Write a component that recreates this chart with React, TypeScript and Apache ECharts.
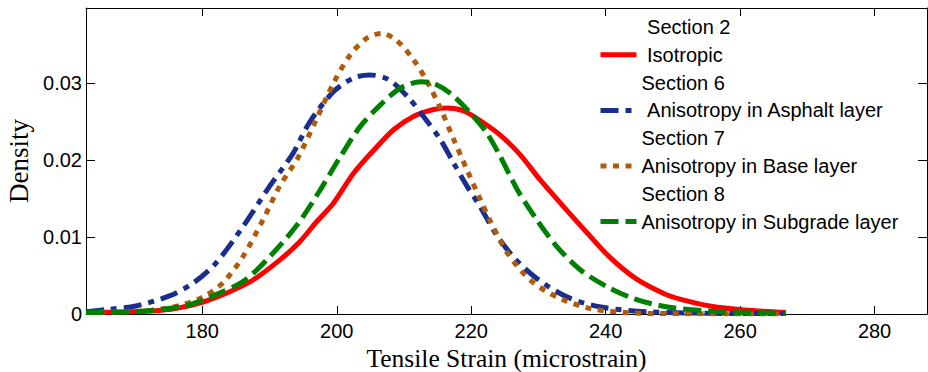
import React, { useEffect, useRef } from "react";
import * as echarts from "echarts";

// Section 2 – Isotropic
const isoStrain = [162.7, 167, 172.6, 176, 180.1, 184.0, 187.5, 191.5, 194.5, 197.0, 199.5, 202.5, 205.5, 208.5, 211.4, 214.4, 216.4, 218.9, 221.6, 224.4, 227.3, 230.3, 233.5, 237.3, 240.6, 244.5, 248.8, 251.2, 255.7, 260.6, 266.8];
const isoDensity = [0.0002, 0.00025, 0.0004, 0.0007, 0.00156, 0.00287, 0.00439, 0.0070, 0.0094, 0.0120, 0.0144, 0.0183, 0.0213, 0.0240, 0.0257, 0.0266, 0.0268, 0.0264, 0.0250, 0.0232, 0.0207, 0.0174, 0.0142, 0.0105, 0.0074, 0.0046, 0.0026, 0.0019, 0.0010, 0.00052, 0.0002];

// Section 6 – Anisotropy in Asphalt layer
const asphaltStrain = [162.7, 166, 170.1, 175.1, 178.6, 182.0, 186.0, 190.0, 193.5, 196.0, 199.5, 202.5, 204.9, 207.7, 210.5, 212.9, 215.4, 217.4, 219.4, 221.5, 223.6, 226.3, 229.8, 234.3, 239.3, 246.2, 255, 266.8];
const asphaltDensity = [0.0003, 0.0006, 0.00104, 0.00235, 0.0040, 0.0066, 0.0113, 0.0166, 0.0209, 0.0250, 0.0289, 0.0307, 0.0311, 0.0305, 0.0283, 0.0257, 0.0227, 0.0196, 0.0166, 0.0137, 0.0105, 0.0074, 0.0046, 0.0022, 0.0009, 0.0003, 0.0001, 0.00005];

// Section 7 – Anisotropy in Base layer
const baseStrain = [162.7, 168, 172.6, 176.6, 180.1, 183.0, 186.0, 189.0, 191.5, 194.2, 196.8, 199.5, 202.0, 204.5, 206.7, 209.0, 211.4, 213.4, 215.4, 217.4, 219.4, 221.4, 223.0, 225.4, 228.8, 232.8, 237.8, 243.7, 250, 266.8];
const baseDensity = [0.0002, 0.0003, 0.0005, 0.0011, 0.0022, 0.0040, 0.0074, 0.0122, 0.0166, 0.0203, 0.0250, 0.0300, 0.0337, 0.0359, 0.0365, 0.0355, 0.0331, 0.0303, 0.0268, 0.0227, 0.0187, 0.0148, 0.0118, 0.0079, 0.0044, 0.0022, 0.0007, 0.00015, 0.00005, 0.0];

// Section 8 – Anisotropy in Subgrade layer
const subgradeStrain = [162.7, 170.1, 177.6, 182.5, 186.5, 190.5, 194.2, 197.3, 200.5, 203.5, 206.5, 209.5, 212.5, 214.4, 216.9, 219.9, 222.2, 224.2, 226.9, 229.8, 232.8, 236.3, 240.3, 244.2, 249.2, 255, 260, 266.8];
const subgradeDensity = [0.0002, 0.0003, 0.0011, 0.0027, 0.0045, 0.0079, 0.0117, 0.0158, 0.0204, 0.0244, 0.0272, 0.0294, 0.0302, 0.0300, 0.0287, 0.0261, 0.0237, 0.0207, 0.0161, 0.0122, 0.0087, 0.0057, 0.0035, 0.0020, 0.0009, 0.0004, 0.0002, 0.0001];

const xTicks = [180, 200, 220, 240, 260, 280];
const yTicks = [0, 0.01, 0.02, 0.03];
const sectionNames = ["Section 2", "Section 6", "Section 7", "Section 8"];
const curveNames = ["Isotropic", "Anisotropy in Asphalt layer", "Anisotropy in Base layer", "Anisotropy in Subgrade layer"];
const paddedNames = ["Section 2", "Isotropic", "Anisotropy in Asphalt layer"];

const X_MIN = 162.7;
const X_MAX = 287.8;
const Y_MAX = 0.0398;

const SANS = "'Liberation Sans', Arial, sans-serif";
const SERIF = "'Liberation Serif', 'Times New Roman', serif";

function pairs(xs: number[], ys: number[]) {
  return xs.map((x, i) => [x, ys[i]]);
}

export default function App() {
  const ref = useRef<HTMLDivElement>(null);

  useEffect(() => {
    if (!ref.current) return;
    const chart = echarts.init(ref.current, undefined, { renderer: "svg" });

    const frameLine = { show: true, onZero: false, lineStyle: { color: "#000", width: 1 } };
    const tickStyle = { color: "#000", width: 1 };

    const curveSeries = [
      { name: curveNames[0], color: "#FF0000", type: "solid" as any, data: pairs(isoStrain, isoDensity) },
      { name: curveNames[1], color: "#1A2E8E", type: [18, 7, 6, 7], data: pairs(asphaltStrain, asphaltDensity) },
      { name: curveNames[2], color: "#B05A0A", type: [6, 6.5], data: pairs(baseStrain, baseDensity) },
      { name: curveNames[3], color: "#008000", type: [18, 7], data: pairs(subgradeStrain, subgradeDensity) },
    ].map((s) => ({
      name: s.name,
      type: "line",
      data: s.data,
      smooth: 0.3,
      symbol: "none",
      showSymbol: false,
      xAxisIndex: 0,
      yAxisIndex: 0,
      itemStyle: { color: s.color },
      lineStyle: { color: s.color, width: 5, type: s.type, cap: "butt" },
    }));

    const dummySeries = sectionNames.map((n) => ({
      name: n,
      type: "line",
      data: [],
      symbol: "none",
      xAxisIndex: 0,
      yAxisIndex: 0,
      itemStyle: { color: "#fff", opacity: 0 },
      lineStyle: { opacity: 0, width: 0 },
    }));

    const legendData: any[] = [];
    for (let i = 0; i < 4; i++) {
      legendData.push({ name: sectionNames[i], itemStyle: { opacity: 0 }, lineStyle: { opacity: 0 } });
      legendData.push({ name: curveNames[i], itemStyle: { opacity: 0 } });
    }

    chart.setOption({
      animation: false,
      backgroundColor: "#fff",
      grid: { left: 86, right: 1, top: 8, bottom: 58, containLabel: false, outerBoundsMode: "none" },
      legend: {
        orient: "vertical",
        left: 598,
        top: 17,
        padding: 0,
        itemWidth: 36,
        itemHeight: 14,
        itemGap: 7.8,
        selectedMode: false,
        data: legendData,
        itemStyle: { opacity: 0 },
        lineStyle: { width: 5 },
        formatter: (name: string) => (paddedNames.includes(name) ? "\u00a0" + name : name),
        textStyle: { fontSize: 20, color: "#000", fontFamily: SANS, lineHeight: 20 },
      },
      xAxis: [
        {
          type: "value",
          position: "bottom",
          min: X_MIN,
          max: X_MAX,
          axisLine: frameLine,
          axisTick: { show: true, inside: true, length: 8, customValues: xTicks, lineStyle: tickStyle },
          axisLabel: { show: true, customValues: xTicks, margin: 7, fontSize: 20, color: "#000", fontFamily: SANS },
          splitLine: { show: false },
          name: "Tensile Strain (microstrain)",
          nameLocation: "middle",
          nameGap: 40,
          nameTextStyle: { fontFamily: SERIF, fontSize: 25.5, color: "#000", lineHeight: 26, verticalAlign: "middle" },
        },
        {
          type: "value",
          position: "top",
          min: X_MIN,
          max: X_MAX,
          axisLine: frameLine,
          axisTick: { show: true, inside: true, length: 8, customValues: xTicks, lineStyle: tickStyle },
          axisLabel: { show: false },
          splitLine: { show: false },
        },
      ],
      yAxis: [
        {
          type: "value",
          position: "left",
          min: 0,
          max: Y_MAX,
          axisLine: frameLine,
          axisTick: { show: true, inside: true, length: 9, customValues: yTicks, lineStyle: tickStyle },
          axisLabel: { show: true, customValues: yTicks, margin: 4, fontSize: 20, color: "#000", fontFamily: SANS },
          splitLine: { show: false },
          name: "Density",
          nameLocation: "middle",
          nameGap: 50,
          nameRotate: 90,
          nameTextStyle: { fontFamily: SERIF, fontSize: 27, color: "#000" },
        },
        {
          type: "value",
          position: "right",
          min: 0,
          max: Y_MAX,
          axisLine: frameLine,
          axisTick: { show: true, inside: true, length: 9, customValues: yTicks, lineStyle: tickStyle },
          axisLabel: { show: false },
          splitLine: { show: false },
        },
      ],
      series: [...dummySeries, ...curveSeries],
    });

    return () => chart.dispose();
  }, []);

  return (
    <div
      ref={ref}
      style={{ position: "absolute", left: 0, top: 0, width: 928, height: 372, background: "#fff" }}
    />
  );
}
